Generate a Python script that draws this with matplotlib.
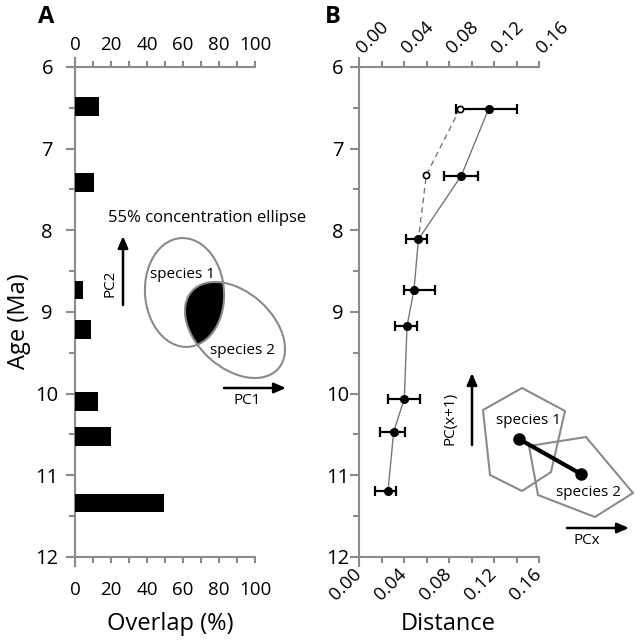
import matplotlib
matplotlib.use("Agg")
import matplotlib.pyplot as plt
from matplotlib.patches import Ellipse, Polygon
import numpy as np

plt.rcParams['font.family'] = ['Open Sans', 'DejaVu Sans']

# ---------------- data ----------------
ages_A = [6.48, 7.41, 8.73, 9.21, 10.10, 10.52, 11.34]
overlap = [13.3, 10.5, 4.5, 8.7, 12.8, 20.0, 49.5]

ages_B = [6.51, 7.33, 8.11, 8.73, 9.17, 10.06, 10.47, 11.19]
distance = [0.1153, 0.0910, 0.0528, 0.0489, 0.0427, 0.0403, 0.0308, 0.0258]
dist_low = [0.0866, 0.0753, 0.0415, 0.0397, 0.0320, 0.0255, 0.0184, 0.0146]
dist_high = [0.1408, 0.1055, 0.0608, 0.0673, 0.0516, 0.0540, 0.0412, 0.0332]

alt_ages = [6.51, 7.32, 8.11]
alt_distance = [0.0898, 0.0599, 0.0528]

A_ticks = [0, 20, 40, 60, 80, 100]
A_minor = [10, 30, 50, 70, 90]
B_ticks = [0.00, 0.04, 0.08, 0.12, 0.16]
B_minor = [0.02, 0.06, 0.10, 0.14]
B_labels = ['0.00', '0.04', '0.08', '0.12', '0.16']
age_ticks = [6, 7, 8, 9, 10, 11, 12]
age_minor = [6.5, 7.5, 8.5, 9.5, 10.5, 11.5]

GRAY = '#8a8a8a'
W, H = 640, 641
fig = plt.figure(figsize=(W / 100, H / 100), dpi=100)


def px_axes(l, t, r, b):
    return fig.add_axes([l / W, 1 - b / H, (r - l) / W, (b - t) / H])


def style(ax, lpad, xlim, ticks, minor, labels, top_pad, bot_pad, rotate):
    for s in ['left', 'bottom']:
        ax.spines[s].set_color(GRAY)
        ax.spines[s].set_linewidth(1.5)
    ax.spines['right'].set_visible(False)
    ax.spines['top'].set_visible(False)
    ax.set_ylim(12, 6)
    ax.spines['left'].set_bounds(12.11, 5.89)
    ax.set_yticks(age_ticks)
    ax.set_yticks(age_minor, minor=True)
    ax.tick_params(axis='y', which='major', length=6.5, width=1.5, color=GRAY,
                   labelsize=14.5, pad=lpad)
    ax.tick_params(axis='y', which='minor', length=4, width=1.5, color=GRAY)
    for lab in ax.get_yticklabels():
        lab.set_horizontalalignment('center')
    ax.set_xlim(*xlim)
    ax.set_xticks(ticks)
    ax.set_xticklabels(labels)
    ax.set_xticks(minor, minor=True)
    ax.tick_params(axis='x', which='both', direction='out', width=1.5, color=GRAY, length=4)
    ax.tick_params(axis='x', which='major', labelsize=13.5, pad=bot_pad)

    sec = ax.secondary_xaxis('top')
    sec.spines['top'].set_color(GRAY)
    sec.spines['top'].set_linewidth(1.5)
    sec.set_xticks(ticks)
    sec.set_xticklabels(labels)
    sec.set_xticks(minor, minor=True)
    sec.tick_params(axis='x', which='both', direction='out', width=1.5, color=GRAY, length=4)
    sec.tick_params(axis='x', which='major', labelsize=13.5, pad=top_pad)
    if rotate:
        for lab in ax.get_xticklabels():
            lab.set_rotation(45)
            lab.set_rotation_mode('anchor')
            lab.set_horizontalalignment('right')
            lab.set_verticalalignment('center')
        for lab in sec.get_xticklabels():
            lab.set_rotation(45)
            lab.set_rotation_mode('anchor')
            lab.set_horizontalalignment('left')
            lab.set_verticalalignment('center')
    return sec


# ---------------- panel A ----------------
axA = px_axes(75, 67, 255, 557)
style(axA, 13.5, (0, 100), A_ticks, A_minor, [str(t) for t in A_ticks], 5, 13, False)
axA.barh(ages_A, overlap, height=0.23, color='black', zorder=3)

# ---------------- panel B ----------------
axB = px_axes(359, 67, 539, 557)
style(axB, 9, (0, 0.16), B_ticks, B_minor, B_labels, 8, 6, True)
xerr = [np.array(distance) - np.array(dist_low), np.array(dist_high) - np.array(distance)]
axB.plot(alt_distance, alt_ages, color='#777777', lw=1, ls=(0, (4, 3)), zorder=2)
axB.plot(alt_distance[:2], alt_ages[:2], 'o', ms=4.5, mfc='white', mec='black', mew=1.2, zorder=4)
axB.plot(distance, ages_B, color='#777777', lw=1, zorder=2)
axB.errorbar(distance, ages_B, xerr=xerr, fmt='o', ms=5.5, color='black',
             ecolor='black', elinewidth=1.6, capsize=3.6, capthick=1.6, zorder=3)

# axis titles
fig.text(170 / W, 1 - 630 / H, 'Overlap (%)', fontsize=17, ha='center', va='baseline')
fig.text(448 / W, 1 - 630 / H, 'Distance', fontsize=17, ha='center', va='baseline')
fig.text(19 / W, 1 - 321 / H, 'Age (Ma)', fontsize=17, rotation=90, ha='center', va='center')
fig.text(46 / W, 1 - 17 / H, 'A', fontsize=17, fontweight='bold', ha='center', va='center')
fig.text(333 / W, 1 - 17 / H, 'B', fontsize=17, fontweight='bold', ha='center', va='center')

# ---------------- overlay diagrams ----------------
ov = fig.add_axes([0, 0, 1, 1])
ov.set_xlim(0, W)
ov.set_ylim(H, 0)
ov.axis('off')
ov.patch.set_alpha(0)

# ellipse diagram (panel A)
e1 = Ellipse((184.5, 292.5), 79, 109, angle=-4, fc='none', ec=GRAY, lw=1.5, zorder=3)
e2 = Ellipse((235, 330), 116, 76, angle=42, fc='none', ec=GRAY, lw=1.5, zorder=3)
ov.add_patch(e1)
ov.add_patch(e2)
fill = Ellipse((235, 330), 116, 76, angle=42, fc='black', ec='none', zorder=2)
ov.add_patch(fill)
fill.set_clip_path(e1)
ov.text(207, 218, '55% concentration ellipse', fontsize=12, ha='center', va='center')
ov.text(182, 275, 'species 1', fontsize=11, ha='center', va='center')
ov.text(242, 350, 'species 2', fontsize=11, ha='center', va='center')

arrow = dict(arrowstyle='-|>,head_length=0.7,head_width=0.3', lw=1.8, color='black',
             shrinkA=0, shrinkB=0)
ov.annotate('', xy=(123, 236), xytext=(123, 305), arrowprops=arrow)
ov.text(110, 283, 'PC2', fontsize=11, rotation=90, ha='center', va='center')
ov.annotate('', xy=(286, 388), xytext=(224, 388), arrowprops=arrow)
ov.text(247, 401, 'PC1', fontsize=11, ha='center', va='center')

# polygon diagram (panel B)
poly1 = [(522, 388), (565, 411), (551, 472), (522, 491), (490, 475), (483, 410)]
poly2 = [(529, 446), (586, 437), (633, 493), (595, 517), (538, 495)]
ov.add_patch(Polygon(poly1, closed=True, fc='none', ec=GRAY, lw=1.5, zorder=3))
ov.add_patch(Polygon(poly2, closed=True, fc='none', ec=GRAY, lw=1.5, zorder=3))
ov.plot([519, 581], [439, 474], color='black', lw=3, marker='o', ms=8, zorder=4)
ov.text(528, 420, 'species 1', fontsize=11, ha='center', va='center')
ov.text(589, 492, 'species 2', fontsize=11, ha='center', va='center')
ov.annotate('', xy=(472, 373), xytext=(472, 445), arrowprops=arrow)
ov.text(450, 418, 'PC(x+1)', fontsize=11, rotation=90, ha='center', va='center')
ov.annotate('', xy=(629, 528), xytext=(567, 528), arrowprops=arrow)
ov.text(587, 541, 'PCx', fontsize=11, ha='center', va='center')

fig.savefig('out.png', dpi=100)
